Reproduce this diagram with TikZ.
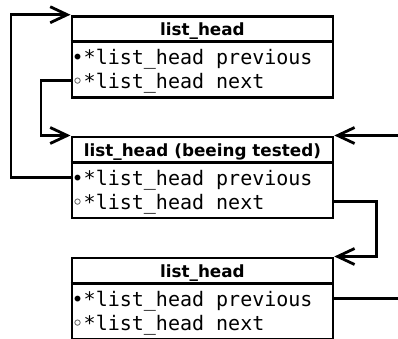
\documentclass[tikz,border=0pt]{standalone}
\usepackage{fontspec}
\setmainfont{DejaVu Sans}
\newfontfamily\monofont{DejaVu Sans Mono}
\usetikzlibrary{arrows.meta}

\begin{document}
\begin{tikzpicture}[x=1pt, y=-1pt,
  frame/.style={line width=2.8pt},
  classbox/.style={draw, frame, minimum width=261pt, minimum height=81pt,
    inner sep=0pt, anchor=north west},
  head/.style={inner sep=0pt, anchor=base, font=\fontsize{16.8}{20}\selectfont\bfseries},
  attr/.style={inner sep=0pt, anchor=base west, font=\fontsize{20}{24}\selectfont\monofont},
  link/.style={frame, line join=miter},
  tip/.style={-{Straight Barb[length=17pt, width=16pt]}}
]
\useasboundingbox (0,0) rectangle (398,338);

% three class boxes
\node[classbox] (box1) at (70.5,14.7) {};
\node[classbox] (box2) at (70.5,135.5) {};
\node[classbox] (box3) at (70.5,256.5) {};

% header dividers
\foreach \b in {box1,box2,box3}
  \draw[frame] ([yshift=-27pt]\b.north west) -- ([yshift=-27pt]\b.north east);

% titles
\node[head] (t1) at ([yshift=-21pt]box1.north) {list\_head};
\node[head] (t2) at ([yshift=-21pt]box2.north) {list\_head (beeing tested)};
\node[head] (t3) at ([yshift=-21pt]box3.north) {list\_head};

% attribute rows (left and right edge points of each row)
\foreach \b in {1,2,3} {
  \coordinate (p\b w) at ([yshift=-42pt]box\b.north west);
  \coordinate (p\b e) at ([yshift=-42pt]box\b.north east);
  \coordinate (n\b w) at ([yshift=-66pt]box\b.north west);
  \coordinate (n\b e) at ([yshift=-66pt]box\b.north east);
  \node[attr] (prev\b) at ([xshift=1pt,yshift=-8pt]p\b w) {•*list\_head previous};
  \node[attr] (next\b) at ([xshift=1pt,yshift=-8pt]n\b w) {◦*list\_head next};
}

% loose ends at the right border
\coordinate (inR) at (400,135.5);
\coordinate (outR) at (400,298.5);

% connectors
\draw[link, tip] (p2w) -| ([xshift=-59.5pt]box1.north west) -- (box1.north west);
\draw[link, tip] (n1w) -| ([xshift=-29.5pt]box2.north west) -- (box2.north west);
\draw[link, tip] (n2e) -| ([xshift=42.5pt]box3.north east) -- (box3.north east);
\draw[link, tip] (inR) -- (box2.north east);
\draw[link] (p3e) -- (outR);
\end{tikzpicture}
\end{document}
